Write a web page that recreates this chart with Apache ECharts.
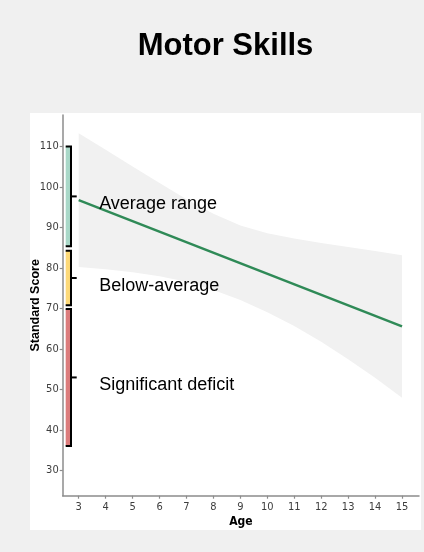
<!DOCTYPE html>
<html>
<head>
<meta charset="utf-8">
<script src="https://cdn.jsdelivr.net/npm/echarts@6/dist/echarts.min.js"></script>
<style>
  html, body { margin: 0; padding: 0; background: #f0f0f0; }
  #chart { width: 424px; height: 552px; }
</style>
</head>
<body>
<div id="chart"></div>
<script>
// Confidence ribbon around the fitted trend, by age
const ages = [3, 4, 5, 6, 7, 8, 9, 10, 11, 12, 13, 14, 15];
const ciUpper = [113.3, 109.2, 105.1, 101.0, 97.0, 93.4, 90.5, 88.6, 87.3, 86.2, 85.2, 84.2, 83.2];
const ciLower = [80.3, 79.7, 79.0, 78.0, 76.6, 74.6, 72.1, 69.1, 65.7, 61.8, 57.5, 52.9, 48.0];

// Fitted linear trend (end points)
const fitAges = [3, 15];
const fitScores = [96.8, 65.6];

// Reference score bands
const bandNames = ['Average range', 'Below-average', 'Significant deficit'];
const bandLow = [85.4, 70.8, 36.1];
const bandHigh = [110, 84.3, 69.9];
const bandColors = ['#a9d8c8', '#fdd978', '#dc7c7c'];

// Tick labels
const yTicks = [30, 40, 50, 60, 70, 80, 90, 100, 110];
const xTicks = [3, 4, 5, 6, 7, 8, 9, 10, 11, 12, 13, 14, 15];

const chart = echarts.init(document.getElementById('chart'));

const axisGrey = '#8c8c8c';
const narrow = '"DejaVu Sans Condensed", "Liberation Sans Narrow", sans-serif';
const tickFont = {
  color: '#3d3d3d',
  fontFamily: narrow,
  fontSize: 11
};

function ribbonItem(params, api) {
  if (params.dataIndex !== 0) return null;
  const pts = [];
  for (let i = 0; i < ages.length; i++) pts.push(api.coord([ages[i], ciUpper[i]]));
  for (let i = ages.length - 1; i >= 0; i--) pts.push(api.coord([ages[i], ciLower[i]]));
  return {
    type: 'polygon',
    shape: { points: pts },
    style: { fill: '#f1f1f1' }
  };
}

function bandItem(params, api) {
  const i = params.dataIndex;
  const lo = bandLow[i], hi = bandHigh[i], mid = (lo + hi) / 2;
  const pTop = api.coord([2.517, hi]);
  const pBot = api.coord([2.517, lo]);
  const xR = api.coord([2.714, hi])[0];
  const xTick = api.coord([2.926, hi])[0];
  const xText = api.coord([3.76, hi])[0];
  const yMid = api.coord([2.517, mid])[1];
  return {
    type: 'group',
    children: [
      {
        type: 'rect',
        shape: { x: pTop[0], y: pTop[1], width: xR - pTop[0], height: pBot[1] - pTop[1] },
        style: { fill: bandColors[i] }
      },
      {
        type: 'polyline',
        shape: { points: [[pTop[0], pTop[1]], [xR, pTop[1]], [xR, pBot[1]], [pBot[0], pBot[1]]] },
        style: { stroke: '#000', lineWidth: 2, fill: null }
      },
      {
        type: 'line',
        shape: { x1: xR, y1: yMid, x2: xTick, y2: yMid },
        style: { stroke: '#000', lineWidth: 2 }
      },
      {
        type: 'text',
        z2: 10,
        style: {
          x: xText, y: yMid + 8,
          text: bandNames[i],
          fill: '#000',
          font: '18px "Liberation Sans", Arial, sans-serif',
          textAlign: 'left',
          textVerticalAlign: 'middle'
        }
      }
    ]
  };
}

chart.setOption({
  backgroundColor: '#f0f0f0',
  animation: false,
  graphic: [
    {
      type: 'rect', z: -10, silent: true,
      shape: { x: 30, y: 113, width: 391, height: 417 },
      style: { fill: '#ffffff' }
    },
    {
      type: 'text', z: 10,
      x: 225.5, y: 46,
      style: {
        text: 'Motor Skills',
        font: 'bold 31px "Liberation Sans", Arial, sans-serif',
        fill: '#000',
        textAlign: 'center',
        textVerticalAlign: 'middle'
      }
    }
  ],
  grid: { left: 62.7, right: 5, top: 115, bottom: 56.3 },
  xAxis: {
    type: 'value',
    min: 2.406, max: 15.63,
    name: 'Age',
    nameLocation: 'middle',
    nameGap: 20.5,
    nameMoveOverlap: false,
    nameTextStyle: {
      color: '#000', fontWeight: 'bold', fontSize: 12,
      fontFamily: narrow
    },
    axisLine: { show: true, lineStyle: { color: axisGrey, width: 1.5 } },
    axisTick: { show: true, length: 3, customValues: xTicks, lineStyle: { color: axisGrey, width: 1.2 } },
    axisLabel: Object.assign({ customValues: xTicks, margin: 6 }, tickFont),
    splitLine: { show: false }
  },
  yAxis: {
    type: 'value',
    min: 23.8, max: 117.8,
    name: 'Standard Score',
    nameLocation: 'middle',
    nameRotate: 90,
    nameGap: 21,
    nameMoveOverlap: false,
    nameTextStyle: {
      color: '#000', fontWeight: 'bold', fontSize: 12.5,
      fontFamily: '"Liberation Sans", Arial, sans-serif'
    },
    axisLine: { show: true, lineStyle: { color: axisGrey, width: 1.5 } },
    axisTick: { show: true, length: 3, customValues: yTicks, lineStyle: { color: axisGrey, width: 1.2 } },
    axisLabel: Object.assign({ customValues: yTicks, margin: 4 }, tickFont),
    splitLine: { show: false }
  },
  series: [
    {
      name: 'ribbon',
      type: 'custom',
      renderItem: ribbonItem,
      data: ages.map((a, i) => [a, ciLower[i], ciUpper[i]]),
      encode: { x: 0, y: [1, 2] },
      z: 1,
      silent: true
    },
    {
      name: 'trend',
      type: 'line',
      data: fitAges.map((a, i) => [a, fitScores[i]]),
      showSymbol: false,
      lineStyle: { color: '#2f8a57', width: 2.5 },
      z: 2,
      silent: true
    },
    {
      name: 'bands',
      type: 'custom',
      renderItem: bandItem,
      data: bandLow.map((lo, i) => [2.6, lo, bandHigh[i]]),
      encode: { x: 0, y: [1, 2] },
      clip: false,
      z: 3,
      silent: true
    }
  ]
});
</script>
</body>
</html>
